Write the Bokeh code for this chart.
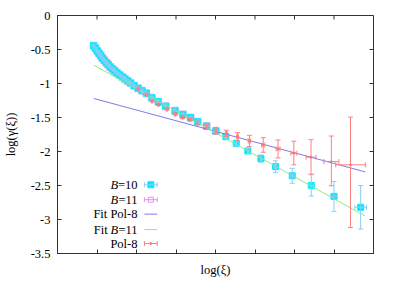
import math
from bokeh.plotting import figure
from bokeh.models import (Whisker, TeeHead, ColumnDataSource, Label,
                          CustomJSTickFormatter, FixedTicker, Range1d)
from bokeh.embed import file_html
from bokeh.resources import INLINE

# ---------------- data ----------------
b10_x = [0.913, 0.963, 1.008, 1.05, 1.093, 1.133, 1.183, 1.233, 1.283, 1.333,
         1.393, 1.45, 1.508, 1.575, 1.643, 1.708, 1.775, 1.85, 1.938, 2.038,
         2.138, 2.25, 2.388, 2.55, 2.738, 2.975, 3.175, 3.368, 3.55, 3.775,
         4.008, 4.263, 4.525, 4.818, 5.15, 5.518, 5.943, 6.425, 7.0, 7.675]
b10_y = [-0.444, -0.483, -0.523, -0.557, -0.590, -0.625, -0.659, -0.693, -0.722, -0.757,
         -0.787, -0.815, -0.845, -0.874, -0.904, -0.933, -0.962, -0.992, -1.032, -1.069,
         -1.106, -1.142, -1.21, -1.267, -1.333, -1.401, -1.454, -1.501, -1.562, -1.625,
         -1.699, -1.782, -1.879, -1.992, -2.104, -2.222, -2.357, -2.499, -2.66, -2.821]
b10_ey = [0.01] * 31 + [0.02, 0.025, 0.04, 0.054, 0.085, 0.11, 0.157, 0.22, 0.32]
b10_ex = [0.01] * 35 + [0.03, 0.04, 0.05, 0.083, 0.146]

b11_x = b10_x[:31]
b11_y = b10_y[:31]

p8_x = [2.038, 2.25, 2.393, 2.558, 2.775, 2.983, 3.168, 3.358, 3.543, 3.775,
        4.008, 4.275, 4.558, 4.858, 5.208, 5.583, 5.983, 6.418, 6.933, 7.418]
p8_y = [-1.08, -1.165, -1.259, -1.311, -1.376, -1.45, -1.494, -1.531, -1.582, -1.64,
        -1.694, -1.732, -1.782, -1.845, -1.904, -1.962, -2.025, -2.084, -2.148, -2.196]
p8_up = [0.01, 0.01, 0.012, 0.012, 0.015, 0.015, 0.02, 0.02, 0.025, 0.035,
         0.05, 0.045, 0.059, 0.083, 0.107, 0.132, 0.176, 0.258, 0.376, 0.702]
p8_dn = [0.01, 0.01, 0.012, 0.012, 0.015, 0.015, 0.02, 0.02, 0.025, 0.035,
         0.05, 0.045, 0.059, 0.083, 0.107, 0.132, 0.171, 0.249, 0.356, 0.923]
p8_ex = [0.01] * 10 + [0.02] * 3 + [0.03, 0.04, 0.05, 0.075, 0.125, 0.19, 0.375]

fit_p8_x = [0.917, 7.79]
fit_p8_y = [-1.22, -2.30]
fit_b11_x = [0.917, 7.79]
fit_b11_y = [-0.73, -2.95]

x_ticks = [0, 1, 2, 3, 4, 5, 6, 7, 8]
y_ticks = [0, -0.5, -1, -1.5, -2, -2.5, -3, -3.5]

legend_labels = ["=10", "=11", "Fit Pol-8", "=11", "Pol-8"]

# ---------------- styles ----------------
FONT = "Liberation Serif"
FS = "12.5px"
AX = "#333333"
CYAN = "#00ecfa"
CYAN_ERR = "#87cefa"
MAG = "#e090f0"
BLUE = "#7b7bf0"
GREEN = "#88ee88"
RED = "#ff2020"
RED_ERR = "#ff8080"

XMIN, XMAX, YMIN, YMAX = 0, 8, -3.5, 0

p = figure(width=387, height=279, x_range=Range1d(XMIN, XMAX), y_range=Range1d(YMIN, YMAX),
           output_backend="svg", toolbar_location=None, title=None,
           min_border_left=52, min_border_right=14, min_border_top=15, min_border_bottom=25,
           x_axis_label="log(ξ)", y_axis_label="log(γ(ξ))")
p.xgrid.visible = False
p.ygrid.visible = False
p.outline_line_color = AX
p.background_fill_color = "white"
p.border_fill_color = "white"

xa = p.xaxis[0]
xa.ticker = FixedTicker(ticks=x_ticks)
xa.formatter = CustomJSTickFormatter(code="return ''")
xa.major_label_text_font_size = "0px"
xa.major_label_standoff = 0
xa.axis_label_standoff = 9
ya = p.yaxis[0]
ya.ticker = FixedTicker(ticks=y_ticks)
ya.formatter = CustomJSTickFormatter(code="return tick.toString()")
ya.major_label_standoff = 7
ya.axis_label_standoff = 10
ya.major_label_text_font_size = FS
for ax in (xa, ya):
    ax.axis_line_color = AX
    ax.major_tick_line_color = AX
    ax.major_tick_in = 4
    ax.major_tick_out = 0
    ax.minor_tick_in = 0
    ax.minor_tick_out = 0
    ax.major_label_text_font = FONT
    ax.major_label_text_color = "black"
    ax.axis_label_text_font = FONT
    ax.axis_label_text_font_size = FS
    ax.axis_label_text_font_style = "normal"
    ax.axis_label_text_color = "black"

# mirror ticks on the top and right edges (inward, 4 px)
p.ray(x=x_ticks, y=[YMAX] * len(x_ticks), angle=-math.pi / 2, length=4,
      length_units="screen", line_color=AX, line_width=1)
p.ray(x=[XMAX] * len(y_ticks), y=y_ticks, angle=math.pi, length=4,
      length_units="screen", line_color=AX, line_width=1)


def vbars(xs, ys, dn, up, color):
    src = ColumnDataSource(dict(base=xs, lower=[y - d for y, d in zip(ys, dn)],
                                upper=[y + u for y, u in zip(ys, up)]))
    w = Whisker(source=src, base="base", lower="lower", upper="upper", dimension="height",
                line_color=color, line_width=1, level="glyph",
                upper_head=TeeHead(size=5, line_color=color, line_width=1),
                lower_head=TeeHead(size=5, line_color=color, line_width=1))
    p.add_layout(w)


def hbars(xs, ys, ex, color):
    src = ColumnDataSource(dict(base=ys, lower=[x - e for x, e in zip(xs, ex)],
                                upper=[x + e for x, e in zip(xs, ex)]))
    w = Whisker(source=src, base="base", lower="lower", upper="upper", dimension="width",
                line_color=color, line_width=1, level="glyph",
                upper_head=TeeHead(size=5, line_color=color, line_width=1),
                lower_head=TeeHead(size=5, line_color=color, line_width=1))
    p.add_layout(w)


# B=11 (mostly hidden behind B=10)
p.scatter(b11_x, b11_y, marker="square", size=7, fill_color=None, line_color=MAG,
          line_width=1, line_alpha=0.5)
# B=10
vbars(b10_x, b10_y, b10_ey, b10_ey, CYAN_ERR)
hbars(b10_x, b10_y, b10_ex, CYAN_ERR)
p.scatter(b10_x, b10_y, marker="square", size=6, fill_color=CYAN, line_color=CYAN)
# fits
p.line(fit_p8_x, fit_p8_y, line_color=BLUE, line_width=1)
p.line(fit_b11_x, fit_b11_y, line_color=GREEN, line_width=1)
# Pol-8
vbars(p8_x, p8_y, p8_dn, p8_up, RED_ERR)
hbars(p8_x, p8_y, p8_ex, RED_ERR)
p.scatter(p8_x, p8_y, marker="cross", size=3, line_color=RED, line_width=1)

# ---------------- legend (gnuplot style: text left, key right) ----------------
leg_right = 2.025
leg_rows = [-2.489, -2.709, -2.921, -3.148, -3.353]
eq_w = 0.49
key_x0, key_x1 = 2.2, 2.525
key_xc = (key_x0 + key_x1) / 2

for i, (yy, txt) in enumerate(zip(leg_rows, legend_labels)):
    p.add_layout(Label(x=leg_right, y=yy, text=txt, text_align="right", text_baseline="middle",
                       text_font=FONT, text_font_size=FS, text_color="black"))
    if i in (0, 1, 3):
        p.add_layout(Label(x=leg_right - eq_w, y=yy, text="B", text_align="right",
                           text_baseline="middle", text_font=FONT, text_font_size=FS,
                           text_font_style="italic", text_color="black"))
    if i == 3:
        p.add_layout(Label(x=leg_right - eq_w - 0.265, y=yy, text="Fit", text_align="right",
                           text_baseline="middle", text_font=FONT, text_font_size=FS,
                           text_color="black"))

hbars([key_xc], [leg_rows[0]], [(key_x1 - key_x0) / 2], CYAN_ERR)
p.scatter([key_xc], [leg_rows[0]], marker="square", size=6, fill_color=CYAN, line_color=CYAN)
hbars([key_xc], [leg_rows[1]], [(key_x1 - key_x0) / 2], MAG)
p.scatter([key_xc], [leg_rows[1]], marker="square", size=5, fill_color=None, line_color=MAG)
p.line([key_x0, key_x1], [leg_rows[2]] * 2, line_color=BLUE, line_width=1)
p.line([key_x0, key_x1], [leg_rows[3]] * 2, line_color=GREEN, line_width=1)
hbars([key_xc], [leg_rows[4]], [(key_x1 - key_x0) / 2], RED_ERR)
p.scatter([key_xc], [leg_rows[4]], marker="cross", size=3, line_color=RED, line_width=1)

open("out.html", "w").write(file_html(p, INLINE))
